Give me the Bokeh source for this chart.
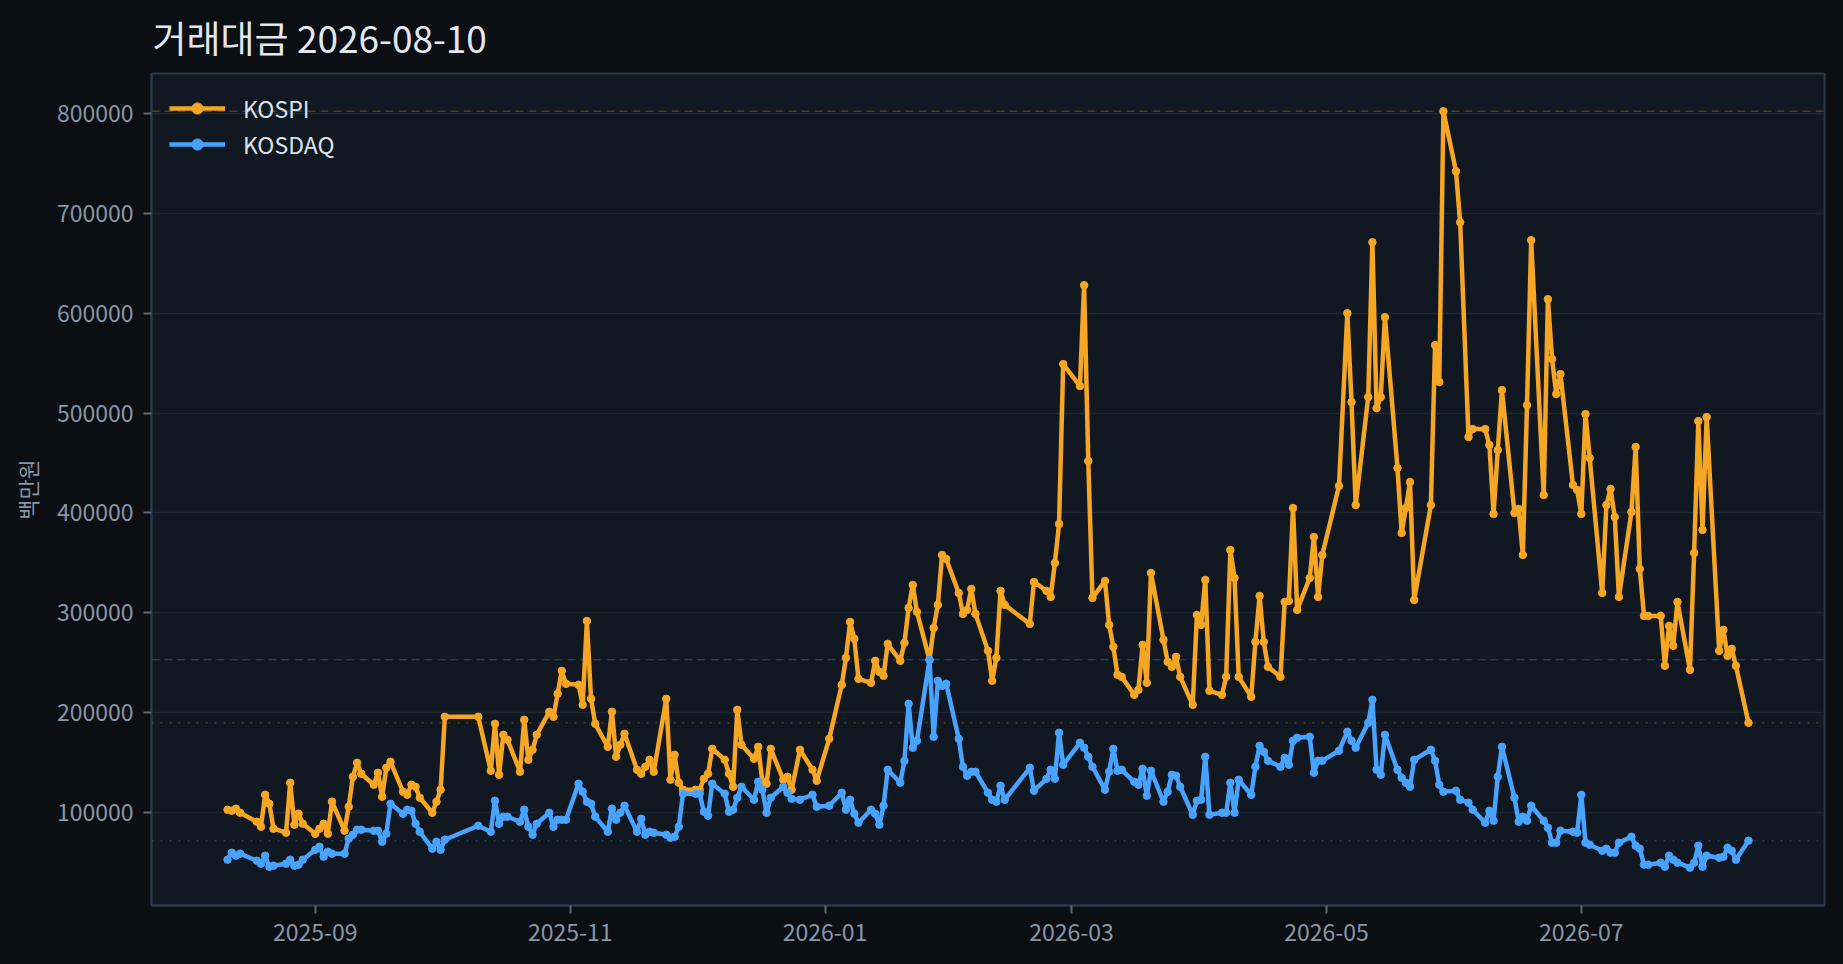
import pandas as pd
from bokeh.plotting import figure
from bokeh.models import (Range1d, Span, Legend, LegendItem, FixedTicker,
                          ColumnDataSource, DatetimeTickFormatter, BasicTickFormatter)
from bokeh.embed import file_html
from bokeh.resources import INLINE

# ---------------- data (백만원) ----------------
first_day = "2025-08-11"
last_day = "2026-08-10"
holidays = ["2025-08-15", "2025-10-03", "2025-10-06", "2025-10-07", "2025-10-08",
            "2025-10-09", "2025-12-25", "2025-12-31", "2026-01-01", "2026-02-16",
            "2026-02-17", "2026-02-18", "2026-03-02", "2026-05-01", "2026-05-05",
            "2026-05-25", "2026-06-03"]

kospi_2025_08 = [103000, 102000, 104000, 100000, 91000, 86000, 118000, 109000, 84000,
                 80000, 130000, 88000, 99000, 89000]
kospi_2025_09 = [79000, 84000, 89000, 79000, 111000, 82000, 106000, 136000, 150000, 139000,
                 128000, 140000, 116000, 145000, 151000, 121000, 118000, 128000, 126000,
                 115000, 100000, 111000]
kospi_2025_10 = [123000, 196000, 196000, 142000, 189000, 138000, 178000, 173000, 141000,
                 193000, 153000, 163000, 178000, 201000, 196000, 219000, 242000, 229000]
kospi_2025_11 = [228000, 208000, 292000, 214000, 189000, 166000, 201000, 156000, 168000,
                 179000, 143000, 139000, 146000, 153000, 141000, 214000, 133000, 158000,
                 130000, 123000]
kospi_2025_12 = [123000, 123000, 134000, 139000, 164000, 153000, 139000, 126000, 203000,
                 168000, 154000, 166000, 131000, 129000, 164000, 133000, 136000, 123000,
                 163000, 143000, 132000]
kospi_2026_01 = [174000, 228000, 255000, 291000, 274000, 234000, 230000, 252000, 241000,
                 237000, 269000, 252000, 270000, 305000, 328000, 301000, 253000, 285000,
                 308000, 358000, 354000]
kospi_2026_02 = [320000, 299000, 303000, 324000, 299000, 262000, 232000, 255000, 322000,
                 308000, 289000, 331000, 322000, 316000, 350000, 389000, 549000]
kospi_2026_03 = [527000, 628000, 452000, 315000, 332000, 288000, 266000, 238000, 236000,
                 218000, 223000, 268000, 230000, 340000, 273000, 251000, 246000, 256000,
                 236000, 208000, 298000]
kospi_2026_04 = [288000, 333000, 222000, 218000, 236000, 363000, 335000, 236000, 216000,
                 271000, 317000, 271000, 246000, 236000, 311000, 312000, 405000, 303000,
                 335000, 376000, 316000, 358000]
kospi_2026_05 = [427000, 600000, 511000, 408000, 516000, 671000, 505000, 516000, 596000,
                 445000, 380000, 405000, 431000, 313000, 408000, 568000, 531000, 802000]
kospi_2026_06 = [742000, 691000, 476000, 484000, 484000, 468000, 399000, 463000, 523000,
                 400000, 404000, 358000, 508000, 673000, 418000, 614000, 554000, 519000,
                 539000, 428000, 423000]
kospi_2026_07 = [399000, 499000, 455000, 320000, 408000, 424000, 396000, 316000, 401000,
                 466000, 344000, 297000, 297000, 297000, 247000, 287000, 267000, 311000,
                 243000, 360000, 492000, 383000, 496000]
kospi_2026_08 = [262000, 283000, 257000, 264000, 247000, 190000]

kosdaq_2025_08 = [53000, 60000, 57000, 59000, 52000, 49000, 57000, 46000, 47000, 49000,
                  53000, 47000, 48000, 53000]
kosdaq_2025_09 = [63000, 66000, 56000, 61000, 59000, 59000, 74000, 78000, 83000, 83000,
                  82000, 82000, 71000, 79000, 109000, 99000, 103000, 102000, 89000, 81000,
                  64000, 71000]
kosdaq_2025_10 = [63000, 73000, 87000, 81000, 112000, 89000, 96000, 96000, 91000, 103000,
                  86000, 78000, 89000, 100000, 86000, 93000, 93000, 93000]
kosdaq_2025_11 = [129000, 121000, 111000, 109000, 96000, 81000, 104000, 93000, 100000,
                  107000, 81000, 94000, 78000, 81000, 80000, 78000, 75000, 76000, 86000,
                  119000]
kosdaq_2025_12 = [119000, 119000, 101000, 97000, 129000, 119000, 101000, 103000, 115000,
                  126000, 113000, 131000, 123000, 100000, 115000, 126000, 120000, 114000,
                  113000, 118000, 106000]
kosdaq_2026_01 = [107000, 120000, 103000, 113000, 99000, 90000, 103000, 99000, 88000,
                  107000, 143000, 130000, 152000, 209000, 165000, 172000, 253000, 176000,
                  232000, 227000, 229000]
kosdaq_2026_02 = [174000, 146000, 137000, 141000, 141000, 120000, 113000, 111000, 127000,
                  113000, 145000, 122000, 134000, 143000, 134000, 180000, 148000]
kosdaq_2026_03 = [170000, 165000, 156000, 146000, 123000, 141000, 164000, 142000, 143000,
                  131000, 128000, 144000, 117000, 142000, 111000, 121000, 138000, 137000,
                  126000, 98000, 112000]
kosdaq_2026_04 = [113000, 156000, 98000, 100000, 100000, 130000, 100000, 133000, 118000,
                  146000, 167000, 161000, 152000, 146000, 155000, 148000, 172000, 175000,
                  176000, 140000, 152000, 152000]
kosdaq_2026_05 = [162000, 181000, 172000, 165000, 190000, 213000, 143000, 138000, 178000,
                  143000, 135000, 130000, 126000, 153000, 163000, 152000, 128000, 121000]
kosdaq_2026_06 = [122000, 113000, 110000, 103000, 90000, 102000, 92000, 136000, 166000,
                  115000, 91000, 96000, 92000, 107000, 92000, 85000, 70000, 70000, 82000,
                  81000, 80000]
kosdaq_2026_07 = [118000, 70000, 68000, 62000, 64000, 60000, 60000, 70000, 76000, 67000,
                  64000, 48000, 48000, 50000, 46000, 57000, 53000, 50000, 45000, 50000,
                  67000, 46000, 57000]
kosdaq_2026_08 = [55000, 56000, 65000, 62000, 53000, 72000]

x_tick_dates = ["2025-09-01", "2025-11-01", "2026-01-01", "2026-03-01", "2026-05-01", "2026-07-01"]
y_ticks = [100000, 200000, 300000, 400000, 500000, 600000, 700000, 800000]

title_text = "거래대금 2026-08-10"
y_label = "백만원"

# ---------------- assemble ----------------
kospi = (kospi_2025_08 + kospi_2025_09 + kospi_2025_10 + kospi_2025_11 + kospi_2025_12 +
         kospi_2026_01 + kospi_2026_02 + kospi_2026_03 + kospi_2026_04 + kospi_2026_05 +
         kospi_2026_06 + kospi_2026_07 + kospi_2026_08)
kosdaq = (kosdaq_2025_08 + kosdaq_2025_09 + kosdaq_2025_10 + kosdaq_2025_11 + kosdaq_2025_12 +
          kosdaq_2026_01 + kosdaq_2026_02 + kosdaq_2026_03 + kosdaq_2026_04 + kosdaq_2026_05 +
          kosdaq_2026_06 + kosdaq_2026_07 + kosdaq_2026_08)
dates = list(pd.bdate_range(first_day, last_day, freq="C", holidays=holidays))
n = min(len(dates), len(kospi), len(kosdaq))
dates, kospi, kosdaq = dates[:n], kospi[:n], kosdaq[:n]

KOSPI_C = "#f5a623"
KOSDAQ_C = "#47a3ff"
FONT = "Noto Sans CJK KR"

W, H = 1843, 964
B_LEFT, B_RIGHT, B_TOP, B_BOTTOM = 151, 19, 73, 59

span = dates[-1] - dates[0]
pad = span * 0.05
x_range = Range1d(dates[0] - pad, dates[-1] + pad)
vmin = min(min(kospi), min(kosdaq))
vmax = max(max(kospi), max(kosdaq))
ypad = (vmax - vmin) * 0.05
y_range = Range1d(vmin - ypad, vmax + ypad)

p = figure(width=W, height=H, x_axis_type="datetime", output_backend="svg",
           toolbar_location=None, x_range=x_range, y_range=y_range,
           min_border_left=B_LEFT, min_border_right=B_RIGHT, min_border_top=B_TOP,
           min_border_bottom=B_BOTTOM,
           background_fill_color="#111821", border_fill_color="#0b0e13")
p.outline_line_color = "#2c3848"
p.outline_line_width = 2

p.title.text = title_text
p.title.text_font = FONT
p.title.text_font_size = "37px"
p.title.text_font_style = "normal"
p.title.text_color = "#e4e8ee"
p.title.align = "left"
p.title.vertical_align = "top"
p.title.standoff = 16
p.title.offset = 1

p.xgrid.visible = False
p.ygrid.grid_line_color = "#1e2632"
p.ygrid.grid_line_width = 1.5

for ax in (p.xaxis[0], p.yaxis[0]):
    ax.axis_line_color = "#2c3848"
    ax.axis_line_width = 2
    ax.major_tick_line_color = "#5c6878"
    ax.major_tick_line_width = 2
    ax.major_tick_out = 8
    ax.major_tick_in = 0
    ax.minor_tick_line_alpha = 0
    ax.major_label_text_color = "#8a96a6"
    ax.major_label_text_font = FONT
    ax.major_label_text_font_size = "23px"
    ax.major_label_standoff = 10

p.xaxis[0].ticker = FixedTicker(ticks=[pd.Timestamp(d).value / 1e6 for d in x_tick_dates])
p.xaxis[0].formatter = DatetimeTickFormatter(days="%Y-%m", months="%Y-%m", years="%Y-%m",
                                             hours="%Y-%m", minutes="%Y-%m")
p.yaxis[0].ticker = FixedTicker(ticks=y_ticks)
p.yaxis[0].formatter = BasicTickFormatter(use_scientific=False)
p.yaxis[0].axis_label = y_label
p.yaxis[0].axis_label_text_font = FONT
p.yaxis[0].axis_label_text_font_size = "22px"
p.yaxis[0].axis_label_text_font_style = "normal"
p.yaxis[0].axis_label_text_color = "#8a96a6"
p.yaxis[0].axis_label_standoff = 11

# reference lines: max (dashed) and latest (dotted)
for loc, col, dash in ((max(kospi), KOSPI_C, "8 5"), (kospi[-1], KOSPI_C, "2 7"),
                       (max(kosdaq), KOSDAQ_C, "8 5"), (kosdaq[-1], KOSDAQ_C, "2 7")):
    p.add_layout(Span(location=loc, dimension="width", line_color=col, line_alpha=0.28,
                      line_width=1.5, line_dash=dash, level="underlay"))

src1 = ColumnDataSource(dict(date=dates, value=kospi))
src2 = ColumnDataSource(dict(date=dates, value=kosdaq))
l1 = p.line("date", "value", source=src1, line_color=KOSPI_C, line_width=4.5)
c1 = p.scatter("date", "value", source=src1, size=7.5, color=KOSPI_C)
l2 = p.line("date", "value", source=src2, line_color=KOSDAQ_C, line_width=4.5)
c2 = p.scatter("date", "value", source=src2, size=7.5, color=KOSDAQ_C)

legend = Legend(items=[LegendItem(label="KOSPI", renderers=[l1, c1]),
                       LegendItem(label="KOSDAQ", renderers=[l2, c2])],
                location="top_left", background_fill_alpha=0, border_line_alpha=0,
                label_text_font=FONT, label_text_font_size="23px",
                label_text_color="#dde2e9", glyph_width=56, glyph_height=28,
                label_standoff=18, spacing=2, margin=10, padding=8)
p.add_layout(legend)

html = file_html(p, INLINE, title="거래대금")
html = html.replace("</head>",
                    "<style>html, body { background-color: #0b0e13; }</style></head>", 1)
open("out.html", "w", encoding="utf-8").write(html)
